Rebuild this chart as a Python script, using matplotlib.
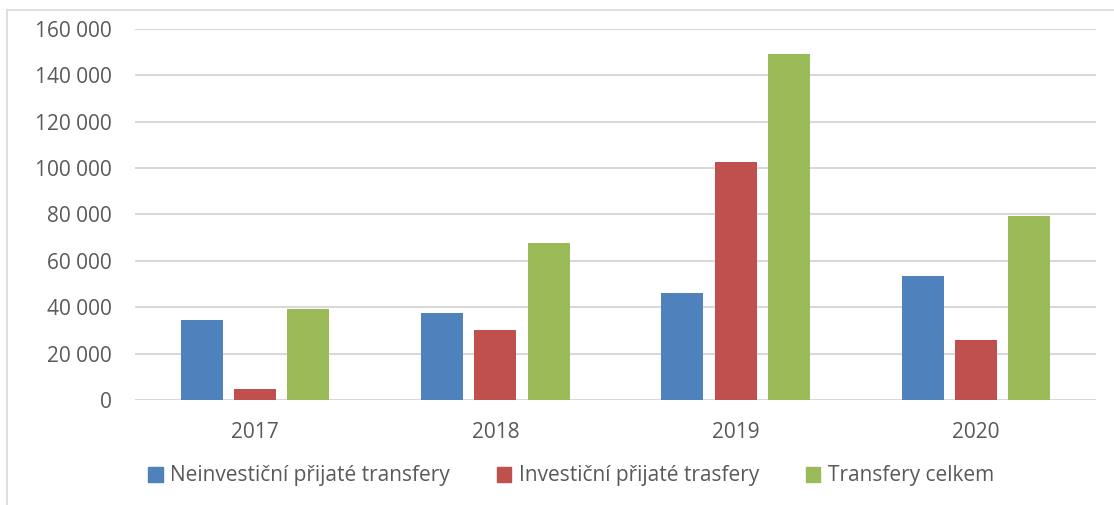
import matplotlib
matplotlib.use("Agg")
import matplotlib.pyplot as plt
import numpy as np
from matplotlib.lines import Line2D

years = ["2017", "2018", "2019", "2020"]
series_names = ["Neinvestiční přijaté transfery", "Investiční přijaté trasfery", "Transfery celkem"]
neinvesticni = [34400, 37400, 46300, 53400]
investicni = [4900, 30300, 102500, 25900]
celkem = [39400, 67700, 149000, 79400]
yticks = [0, 20000, 40000, 60000, 80000, 100000, 120000, 140000, 160000]
colors = ["#4f81bd", "#c0504d", "#9bbb59"]

plt.rcParams['font.family'] = ['Open Sans', 'DejaVu Sans']
text_color = "#595959"
grid_color = "#d9d9d9"

W, H = 1114, 505
fig = plt.figure(figsize=(W / 100, H / 100), dpi=100)
ax = fig.add_axes([135 / W, (H - 400) / H, (1096 - 135) / W, (400 - 28.7) / H])

x = np.arange(len(years))
bw = 0.1745
step = 0.2215
for i, (vals, c, name) in enumerate(zip([neinvesticni, investicni, celkem], colors, series_names)):
    ax.bar(x + (i - 1) * step, vals, width=bw, color=c, label=name, zorder=3)

ax.set_xlim(-0.5, len(years) - 0.5)
ax.set_ylim(0, 160000)
ax.set_yticks(yticks)
ax.set_yticklabels([f"{v:,}".replace(",", " ") for v in yticks])
ax.set_xticks(x)
ax.set_xticklabels(years)
ax.yaxis.grid(True, color=grid_color, linewidth=1.5, zorder=0)
ax.set_axisbelow(True)
for s in ["top", "right", "left", "bottom"]:
    ax.spines[s].set_visible(False)
ax.tick_params(axis="both", length=0, colors=text_color, labelsize=15)
ax.tick_params(axis="y", pad=17)
ax.tick_params(axis="x", pad=16)

handles = [plt.Rectangle((0, 0), 1, 1, color=c) for c in colors]
leg = fig.legend(handles, series_names, loc="center", bbox_to_anchor=(571 / W, (H - 476) / H),
                 ncol=3, frameon=False, fontsize=15, handlelength=0.7, handleheight=0.7,
                 handletextpad=0.35, columnspacing=2.25, labelcolor=text_color)

# outer border (chart area)
fig.add_artist(Line2D([7 / W, 7 / W], [0, (H - 10) / H], color=grid_color, linewidth=1.2, transform=fig.transFigure))
fig.add_artist(Line2D([7 / W, 1], [(H - 10) / H, (H - 10) / H], color=grid_color, linewidth=1.2, transform=fig.transFigure))

fig.savefig("out.png", dpi=100, facecolor="white")
